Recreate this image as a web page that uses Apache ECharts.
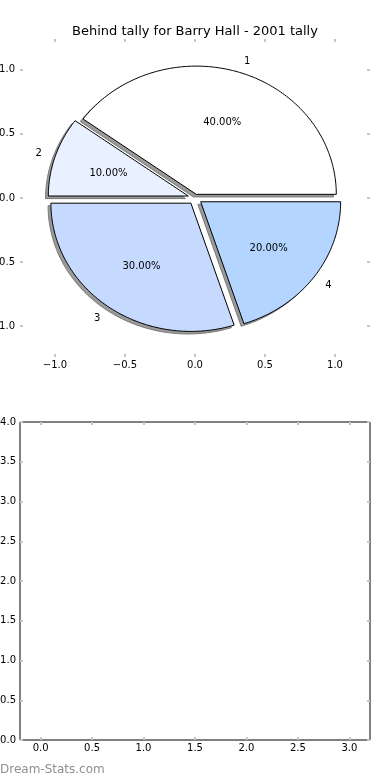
<!DOCTYPE html>
<html><head><meta charset="utf-8">
<script src="https://cdn.jsdelivr.net/npm/echarts@6/dist/echarts.min.js"></script>
<style>html,body{margin:0;padding:0;background:#fff}#c{width:390px;height:780px}</style>
</head><body><div id="c"></div>
<script>
const chartTitle = 'Behind tally for Barry Hall - 2001 tally';
const sliceLabels = ['1', '2', '3', '4'];
const sliceValues = [40, 10, 30, 20];
const sliceColors = ['#ffffff', '#e9f0ff', '#c6d9ff', '#b3d5ff'];
const sliceExplode = [0.03, 0.05, 0.05, 0.05];
const pieTicks = [-1.0, -0.5, 0.0, 0.5, 1.0];
const lowerXTicks = [0.0, 0.5, 1.0, 1.5, 2.0, 2.5, 3.0];
const lowerYTicks = [0.0, 0.5, 1.0, 1.5, 2.0, 2.5, 3.0, 3.5, 4.0];
const watermark = 'Dream-Stats.com';

const FONT = 'DejaVu Sans';
const total = sliceValues.reduce((a, b) => a + b, 0);
const angles = [];
let acc = 0;
sliceValues.forEach(v => { const s = acc / total * 360; acc += v; angles.push([s, acc / total * 360]); });

function wedgeCenter(i) {
  const mid = (angles[i][0] + angles[i][1]) / 2 * Math.PI / 180;
  return [sliceExplode[i] * Math.cos(mid), sliceExplode[i] * Math.sin(mid), mid];
}
function wedgePoints(api, i, ox, oy) {
  const [a0, a1] = angles[i];
  const [cx0, cy0] = wedgeCenter(i);
  const cx = cx0 + ox, cy = cy0 + oy;
  const pts = [api.coord([cx, cy])];
  const n = Math.max(2, Math.ceil(a1 - a0));
  for (let k = 0; k <= n; k++) {
    const t = (a0 + (a1 - a0) * k / n) * Math.PI / 180;
    pts.push(api.coord([cx + Math.cos(t), cy + Math.sin(t)]));
  }
  return pts;
}
const fmt = v => Number(v).toFixed(1).replace('-', '\u2212');
const tickStyle = { color: '#c4c4c4', width: 2 };
const labelStyle = { fontSize: 10, color: '#000', fontFamily: FONT };

function ax(grid, pos, min, max, ticks, showLabel, margin) {
  return {
    type: 'value', gridIndex: grid, position: pos, min: min, max: max,
    axisLine: { show: false, onZero: false }, splitLine: { show: false },
    axisTick: { show: true, inside: true, length: 3, customValues: ticks, lineStyle: tickStyle },
    axisLabel: Object.assign({ show: showLabel, customValues: ticks, formatter: fmt, margin: margin, hideOverlap: false }, labelStyle)
  };
}

const chart = echarts.init(document.getElementById('c'), null, { renderer: 'canvas' });
chart.setOption({
  animation: false,
  backgroundColor: '#fff',
  title: { text: chartTitle, left: 'center', top: 20, textStyle: { fontSize: 13, fontWeight: 'normal', color: '#000', fontFamily: FONT } },
  grid: [
    { left: 20, top: 39, width: 350, height: 318, show: false, containLabel: false, outerBoundsMode: 'none' },
    { left: 20, top: 422, width: 350, height: 318, show: true, borderColor: '#000', borderWidth: 1, backgroundColor: 'transparent', containLabel: false, outerBoundsMode: 'none' }
  ],
  xAxis: [
    ax(0, 'bottom', -1.25, 1.25, pieTicks, true, 3),
    ax(0, 'top', -1.25, 1.25, pieTicks, false, 3),
    ax(1, 'bottom', -0.2, 3.2, lowerXTicks, true, 3),
    ax(1, 'top', -0.2, 3.2, lowerXTicks, false, 3)
  ],
  yAxis: [
    ax(0, 'left', -1.24, 1.24, pieTicks, true, 5),
    ax(0, 'right', -1.24, 1.24, pieTicks, false, 5),
    ax(1, 'left', 0, 4, lowerYTicks, true, 4),
    ax(1, 'right', 0, 4, lowerYTicks, false, 4)
  ],
  graphic: [{ type: 'text', left: 0, top: 764, style: { text: watermark, font: '12px ' + FONT, fill: '#8f8f8f' } }],
  series: [
    {
      type: 'custom', name: 'shadow', xAxisIndex: 0, yAxisIndex: 0, clip: false, silent: true,
      data: sliceValues.map((v, i) => [i, v]),
      renderItem: (params, api) => {
        const i = api.value(0);
        return { type: 'polygon', shape: { points: wedgePoints(api, i, -0.02, -0.02) }, style: { fill: '#9a9a9a', stroke: '#7a7a7a', lineWidth: 1 } };
      }
    },
    {
      type: 'custom', name: 'wedges', xAxisIndex: 0, yAxisIndex: 0, clip: false, silent: true,
      data: sliceValues.map((v, i) => [i, v]),
      renderItem: (params, api) => {
        const i = api.value(0);
        const [cx, cy, mid] = wedgeCenter(i);
        const lp = api.coord([cx + 1.1 * Math.cos(mid), cy + 1.1 * Math.sin(mid)]);
        const pp = api.coord([cx + 0.6 * Math.cos(mid), cy + 0.6 * Math.sin(mid)]);
        const pct = (sliceValues[i] / total * 100).toFixed(2) + '%';
        return {
          type: 'group',
          children: [
            { type: 'polygon', shape: { points: wedgePoints(api, i, 0, 0) }, style: { fill: sliceColors[i], stroke: '#000', lineWidth: 1 } },
            { type: 'text', x: lp[0], y: lp[1] + 1, style: { text: sliceLabels[i], font: '10px ' + FONT, fill: '#000', align: Math.cos(mid) > 0 ? 'left' : 'right', verticalAlign: 'middle' } },
            { type: 'text', x: pp[0], y: pp[1] + 1, style: { text: pct, font: '10px ' + FONT, fill: '#000', align: 'center', verticalAlign: 'middle' } }
          ]
        };
      }
    },
    { type: 'line', xAxisIndex: 2, yAxisIndex: 2, data: [], silent: true }
  ]
});
</script></body></html>
